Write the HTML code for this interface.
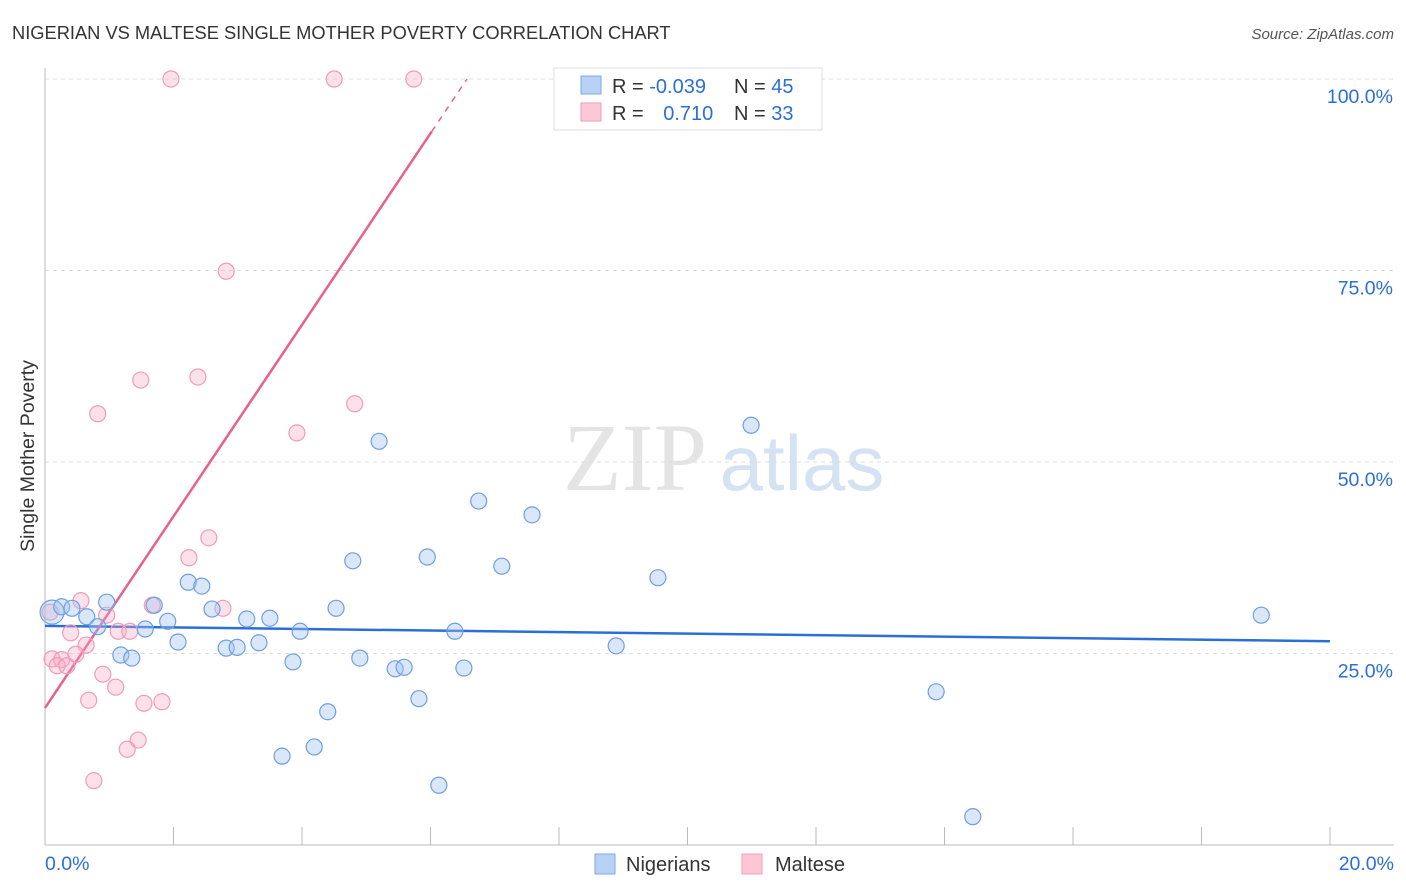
<!DOCTYPE html>
<html><head><meta charset="utf-8">
<style>
body{margin:0;background:#fff;font-family:"Liberation Sans",sans-serif;}
#wrap{position:relative;width:1406px;height:892px;overflow:hidden;}
</style></head>
<body>
<div id="wrap">
<svg id="svg" width="1406" height="892" xmlns="http://www.w3.org/2000/svg">
<text x="12" y="39" font-size="18.3" fill="#333">NIGERIAN VS MALTESE SINGLE MOTHER POVERTY CORRELATION CHART</text>
<text x="1394" y="39" font-size="15" fill="#555" font-style="italic" text-anchor="end">Source: ZipAtlas.com</text>
<text x="34" y="456" font-size="19.5" fill="#333" text-anchor="middle" transform="rotate(-90 34 456)">Single Mother Poverty</text>
<g>
<text x="635" y="490" font-size="96" fill="#e4e4e4" font-family="Liberation Serif,serif" text-anchor="middle">ZIP</text>
<text x="802" y="490" font-size="78" fill="#d4e2f4" text-anchor="middle">atlas</text>
</g>
<g id="grid"></g><g id="axes"></g><g id="trend"></g><g id="pts"></g>
<g>
<rect x="554" y="68" width="268" height="62" fill="#fff" stroke="#ddd"/>
<rect x="581" y="76" width="20" height="18" fill="#b8d2f4" stroke="#7ea8e0"/>
<rect x="581" y="103" width="20" height="18" fill="#fcc8d8" stroke="#f09cb8"/>
<text x="612" y="93" font-size="20" fill="#333">R = <tspan fill="#2b6fd6">-0.039</tspan></text>
<text x="734" y="93" font-size="20" fill="#333">N = <tspan fill="#2b6fd6">45</tspan></text>
<text x="612" y="120" font-size="20" fill="#333">R = <tspan fill="#2b6fd6" dx="14">0.710</tspan></text>
<text x="734" y="120" font-size="20" fill="#333">N = <tspan fill="#2b6fd6">33</tspan></text>
</g>
<g>
<rect x="595" y="854" width="20" height="20" fill="#b8d2f4" stroke="#7ea8e0"/>
<text x="626" y="871" font-size="20" fill="#333">Nigerians</text>
<rect x="742" y="854" width="20" height="20" fill="#fcc8d8" stroke="#f09cb8"/>
<text x="775" y="871" font-size="20" fill="#333">Maltese</text>
</g>
</svg>
</div>
<script>
const xTicks=[0,2,4,6,8,10,12,14,16,18,20];
const yTicks=[25,50,75,100];
const yTickLabels=["25.0%","50.0%","75.0%","100.0%"];
const blueX=[0.11,0.26,0.42,0.65,0.82,0.96,1.18,1.35,1.56,1.70,1.91,2.07,2.23,2.44,2.60,2.82,2.99,3.14,3.33,3.50,3.69,3.86,3.97,4.19,4.40,4.53,4.79,4.90,5.20,5.45,5.59,5.82,5.95,6.13,6.38,6.52,6.75,7.11,7.58,8.89,9.54,10.99,13.87,14.44,18.93];
const blueY=[30.4,31.1,30.9,29.8,28.5,31.7,24.8,24.4,28.2,31.3,29.2,26.5,34.3,33.8,30.8,25.7,25.8,29.5,26.4,29.6,11.6,23.9,27.9,12.8,17.4,30.9,37.1,24.4,52.7,23.0,23.2,19.1,37.6,7.8,27.9,23.1,44.9,36.4,43.1,26.0,34.9,54.8,20.0,3.7,30.0];
const pinkX=[1.96,4.50,5.74,2.82,1.49,2.38,0.82,4.82,3.92,2.55,2.24,0.56,0.96,1.67,2.77,0.40,1.14,1.32,0.64,0.11,0.26,0.19,0.34,0.48,0.90,1.10,0.68,1.54,1.82,1.45,1.28,0.76,0.08];
const pinkY=[100,100,100,74.9,60.7,61.1,56.3,57.6,53.8,40.1,37.5,31.9,30.0,31.3,30.9,27.7,27.9,27.9,26.1,24.3,24.2,23.4,23.4,24.9,22.3,20.6,18.9,18.5,18.7,13.7,12.5,8.4,30.4];
const blueTrend=[28.6,26.6];
const pinkTrend=[17.9,12.5];
const X=v=>45+v*64.25, Y=v=>845-v*7.66;
const NS="http://www.w3.org/2000/svg";
function mk(t,a,p){const e=document.createElementNS(NS,t);for(const k in a)e.setAttribute(k,a[k]);p.appendChild(e);return e;}
const grid=document.getElementById('grid'),axes=document.getElementById('axes'),tr=document.getElementById('trend'),pts=document.getElementById('pts');
yTicks.forEach((t,i)=>{
 const l=mk('line',{x1:45,x2:1394,y1:Y(t),y2:Y(t),stroke:'#ddd','stroke-dasharray':'4 4'},grid);
 
 
 const tx=mk('text',{x:1393,y:Y(t)+24,'font-size':19.5,fill:'#2b6fd6','text-anchor':'end'},axes);
 tx.textContent=yTickLabels[i];
 
 
});
mk('line',{x1:45,x2:45,y1:68,y2:845,stroke:'#bbb'},axes);
mk('line',{x1:45,x2:1394,y1:845,y2:845,stroke:'#bbb'},axes);
xTicks.forEach(t=>{const l=mk('line',{x1:X(t),x2:X(t),y1:827,y2:845,stroke:'#bbb'},axes);
 
 });
const x0=mk('text',{x:45,y:870,'font-size':19.5,fill:'#2b6fd6'},axes);x0.textContent='0.0%';


const x1=mk('text',{x:1394,y:870,'font-size':19.5,fill:'#2b6fd6','text-anchor':'end'},axes);x1.textContent='20.0%';


const bl=mk('line',{x1:X(0),y1:Y(blueTrend[0]),x2:X(20),y2:Y(blueTrend[1]),stroke:'#2b6fd6','stroke-width':2.5},tr);


const xs=6.02,xe=(100-pinkTrend[0])/pinkTrend[1];
const pl=mk('line',{x1:X(0),y1:Y(pinkTrend[0]),x2:X(xs),y2:Y(pinkTrend[0]+pinkTrend[1]*xs),stroke:'#e8608c','stroke-width':2.5},tr);


const pd=mk('line',{x1:X(xs),y1:Y(pinkTrend[0]+pinkTrend[1]*xs),x2:X(xe),y2:Y(100),stroke:'#e8608c','stroke-width':1.5,'stroke-dasharray':'6 6'},tr);


pinkX.forEach((v,i)=>{const c=mk('circle',{cx:X(v),cy:Y(pinkY[i]),r:8,fill:'rgba(248,170,196,0.35)',stroke:'#f09cb8','stroke-width':1.2},pts);
 
 });
blueX.forEach((v,i)=>{const c=mk('circle',{cx:X(v),cy:Y(blueY[i]),r:i==0?12:8,fill:'rgba(160,196,240,0.4)',stroke:'#6f9fe0','stroke-width':1.2},pts);
 
 });
</script>
</body></html>
